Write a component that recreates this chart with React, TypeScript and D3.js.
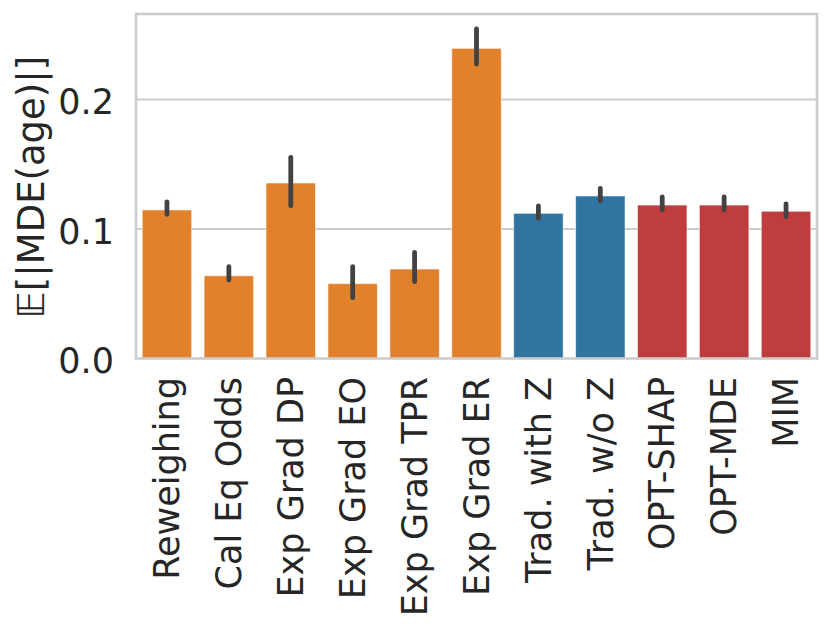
import React from "react";
import * as d3 from "d3";

const categories = [
  "Reweighing",
  "Cal Eq Odds",
  "Exp Grad DP",
  "Exp Grad EO",
  "Exp Grad TPR",
  "Exp Grad ER",
  "Trad. with Z",
  "Trad. w/o Z",
  "OPT-SHAP",
  "OPT-MDE",
  "MIM",
];
const means = [0.1147, 0.0639, 0.1355, 0.0578, 0.0691, 0.2395, 0.1121, 0.1255, 0.1185, 0.1185, 0.1137];
const ciLow = [0.1113, 0.0606, 0.118, 0.047, 0.0593, 0.2274, 0.1082, 0.1216, 0.1147, 0.1147, 0.1095];
const ciHigh = [0.121, 0.0709, 0.1553, 0.0709, 0.082, 0.2544, 0.1178, 0.1314, 0.1247, 0.1247, 0.1193];
const groups = ["base", "base", "base", "base", "base", "base", "trad", "trad", "opt", "opt", "opt"];
const groupColors: Record<string, string> = { base: "#e1812c", trad: "#3274a1", opt: "#c03d3e" };
const yTicks = [0.0, 0.1, 0.2];
const yLabelPrefix = "𝔼";
const yLabelRest = "[|MDE(age)|]";

export default function App() {
  const W = 831;
  const H = 630;
  const left = 136;
  const right = 817;
  const top = 14;
  const bottom = 358.5;

  const x = d3.scaleBand<string>().domain(categories).range([left, right]).paddingInner(0.2).paddingOuter(0.1);
  const y = d3.scaleLinear().domain([0, 0.266]).range([bottom, top]);
  const font = "DejaVu Sans, sans-serif";
  const fs = 35;

  return (
    <svg
      width={W}
      height={H}
      style={{ position: "absolute", left: 0, top: 0, background: "#fff" }}
      fontFamily={font}
    >
      <rect x={0} y={0} width={W} height={H} fill="#fff" />
      {yTicks
        .filter((t) => t > 0)
        .map((t) => (
          <line key={t} x1={left} x2={right} y1={y(t)} y2={y(t)} stroke="#cccccc" strokeWidth={2.2} />
        ))}
      {categories.map((c, i) => (
        <rect
          key={c}
          x={x(c)!}
          y={y(means[i])}
          width={x.bandwidth()}
          height={y(0) - y(means[i])}
          fill={groupColors[groups[i]]}
          stroke="#ffffff"
          strokeOpacity={0.6}
          strokeWidth={1}
        />
      ))}
      {categories.map((c, i) => (
        <line
          key={"e" + c}
          x1={x(c)! + x.bandwidth() / 2}
          x2={x(c)! + x.bandwidth() / 2}
          y1={y(ciLow[i])}
          y2={y(ciHigh[i])}
          stroke="#424242"
          strokeWidth={4.8}
          strokeLinecap="round"
        />
      ))}
      <rect x={left} y={top} width={right - left} height={bottom - top} fill="none" stroke="#cccccc" strokeWidth={2.6} />
      {yTicks.map((t) => (
        <text key={"t" + t} x={114} y={y(t)} dy="0.42em" textAnchor="end" fontSize={fs} fill="#262626">
          {t.toFixed(1)}
        </text>
      ))}
      {categories.map((c) => {
        const cx = x(c)! + x.bandwidth() / 2;
        return (
          <text
            key={"l" + c}
            transform={`translate(${cx},${377}) rotate(-90)`}
            dy="0.35em"
            textAnchor="end"
            fontSize={fs}
            fill="#262626"
          >
            {c}
          </text>
        );
      })}
      <text
        transform={`translate(${44},${187}) rotate(-90)`}
        textAnchor="middle"
        fontSize={37}
        fill="#262626"
      >
        <tspan fontStyle="italic">{yLabelPrefix}</tspan>
        <tspan>{yLabelRest}</tspan>
      </text>
    </svg>
  );
}
